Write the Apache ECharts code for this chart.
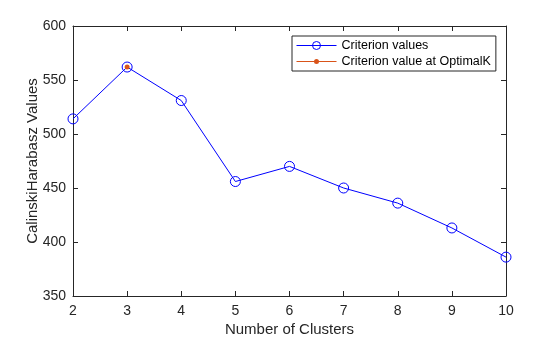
<!DOCTYPE html>
<html>
<head>
<meta charset="utf-8">
<script src="https://cdn.jsdelivr.net/npm/echarts@6/dist/echarts.min.js"></script>
<style>html,body{margin:0;padding:0;background:#fff;}#c{width:560px;height:337px;}</style>
</head>
<body>
<div id="c"></div>
<script>
const clusters = [2, 3, 4, 5, 6, 7, 8, 9, 10];
const criterionValues = [514, 562, 531, 456, 470, 450, 436, 413, 386];
const optimalK = 3;
const optimalValue = 562;
const xTicks = [2, 3, 4, 5, 6, 7, 8, 9, 10];
const yTicks = [350, 400, 450, 500, 550, 600];

const axisColor = '#262626';
const font = 'Liberation Sans, Arial, Helvetica, sans-serif';
const chart = echarts.init(document.getElementById('c'), null, {renderer: 'canvas'});

function xAx(pos, show) {
  return {
    type: 'value', position: pos, min: xTicks[0], max: xTicks[xTicks.length - 1], interval: 1,
    axisLine: {show: true, onZero: false, lineStyle: {color: axisColor, width: 1}},
    axisTick: {show: true, inside: true, length: 5, lineStyle: {color: axisColor}},
    axisLabel: {show: show, color: axisColor, fontSize: 14, fontFamily: font, margin: 8},
    splitLine: {show: false},
    name: show ? 'Number of Clusters' : '', nameLocation: 'middle', nameGap: 26,
    nameMoveOverlap: false,
    nameTextStyle: {color: axisColor, fontSize: 15, fontFamily: font}
  };
}
function yAx(pos, show) {
  return {
    type: 'value', position: pos, min: yTicks[0], max: yTicks[yTicks.length - 1], interval: 50,
    axisLine: {show: true, onZero: false, lineStyle: {color: axisColor, width: 1}},
    axisTick: {show: true, inside: true, length: 5, lineStyle: {color: axisColor}},
    axisLabel: {show: show, color: axisColor, fontSize: 14, fontFamily: font, margin: 7},
    splitLine: {show: false},
    name: show ? 'CalinskiHarabasz Values' : '', nameLocation: 'middle', nameGap: 33,
    nameMoveOverlap: false,
    nameTextStyle: {color: axisColor, fontSize: 15, fontFamily: font}
  };
}

chart.setOption({
  animation: false,
  backgroundColor: '#fff',
  grid: {left: 73, right: 54, top: 26, bottom: 41, containLabel: false, outerBoundsMode: 'none'},
  xAxis: [xAx('bottom', true), xAx('top', false)],
  yAxis: [yAx('left', true), yAx('right', false)],
  legend: {
    orient: 'vertical', left: 292, top: 36,
    backgroundColor: '#fff', borderColor: axisColor, borderWidth: 1,
    padding: [3, 5, 3, 4], itemGap: 3, itemWidth: 40, itemHeight: 10,
    lineStyle: {width: 1},
    itemStyle: {borderWidth: 1},
    textStyle: {color: '#000', fontSize: 12.5, fontFamily: font},
    data: [
      {name: 'Criterion values'},
      {name: 'Criterion value at OptimalK',
       icon: 'path://M0,5.5L40,5.5L40,6.5L0,6.5Z M17.5,6A2.5,2.5 0 1 1 22.5,6A2.5,2.5 0 1 1 17.5,6Z',
       itemStyle: {color: '#D95319', borderWidth: 0}}
    ]
  },
  series: [
    {
      name: 'Criterion values', type: 'line',
      data: clusters.map((c, i) => [c, criterionValues[i]]),
      symbol: 'circle', symbolSize: 10, showAllSymbol: true,
      lineStyle: {color: '#0000FF', width: 1},
      itemStyle: {color: 'rgba(0,0,0,0)', borderColor: '#0000FF', borderWidth: 1},
      z: 2
    },
    {
      name: 'Criterion value at OptimalK', type: 'line',
      data: [[optimalK, optimalValue]],
      symbol: 'circle', symbolSize: 5,
      lineStyle: {color: '#D95319', width: 1},
      itemStyle: {color: '#D95319', borderWidth: 0},
      z: 3
    }
  ]
});
</script>
</body>
</html>
